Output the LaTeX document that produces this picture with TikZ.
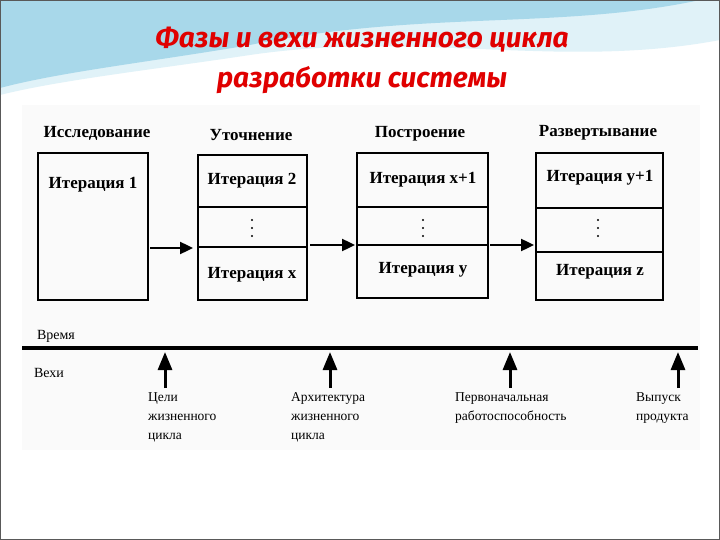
\documentclass[tikz,border=0pt]{standalone}
\usepackage{fontspec}
\setmainfont{Liberation Serif}
\newfontfamily\titlefont{Fira Sans}
\usetikzlibrary{arrows.meta}
\definecolor{sky}{HTML}{A8D8EA}
\definecolor{skyl}{HTML}{E0F2F8}
\definecolor{ttl}{HTML}{E00000}
\begin{document}
\begin{tikzpicture}[x=1pt,y=-1pt,
  box/.style={draw,line width=1.4pt},
  lbl/.style={font=\bfseries\fontsize{17}{19}\selectfont},
  itx/.style={font=\bfseries\fontsize{17}{19}\selectfont},
  ms/.style={font=\fontsize{13.5}{19}\selectfont,align=left,anchor=north west,inner sep=0pt},
  flow/.style={line width=2.4pt,-{Triangle[length=13pt,width=12pt]}},
  msarrow/.style={line width=3pt,-{Triangle[length=18pt,width=14pt]}},
  dotsty/.style={fill,circle,inner sep=0pt,minimum size=2.2pt}]
\useasboundingbox (0,0) rectangle (720,540);
\fill[white] (0,0) rectangle (720,540);
% decoration
\fill[skyl] (0,0) -- (720,0) -- (720,40) .. controls (560,70) and (420,30) .. (250,55) .. controls (150,70) and (60,80) .. (0,95) -- cycle;
\fill[sky] (0,0) -- (700,0) .. controls (560,30) and (420,10) .. (250,45) .. controls (150,62) and (60,72) .. (0,88) -- cycle;
\fill[gray!4] (22,105) rectangle (700,450);
\draw[gray!70!black,line width=1pt] (0.5,0.5) rectangle (719.5,539.5);
% title
\node[font=\titlefont\bfseries\itshape\fontsize{28}{32}\selectfont,text=ttl] (t1) at (362,40) {Фазы и вехи жизненного цикла};
\node[font=\titlefont\bfseries\itshape\fontsize{28}{32}\selectfont,text=ttl] (t2) at (362,80) {разработки системы};
% phase titles
\node[lbl] (p1) at (97,133) {Исследование};
\node[lbl] (p2) at (251,135) {Уточнение};
\node[lbl] (p3) at (420,134) {Построение};
\node[lbl] (p4) at (598,133) {Развертывание};
% boxes
\draw[box] (38,153) rectangle (148,300);
\node[itx] (i1) at (93,185) {Итерация 1};
\draw[box] (198,155) rectangle (307,300);
\draw[box] (198,207) -- (307,207) (198,247) -- (307,247);
\node[itx] (i2) at (252,181) {Итерация 2};
\node[itx] (ix) at (252,275) {Итерация x};
\draw[box] (357,153) rectangle (488,298);
\draw[box] (357,207) -- (488,207) (357,245) -- (488,245);
\node[itx] (i3) at (423,180) {Итерация x+1};
\node[itx] (iy) at (423,270) {Итерация y};
\draw[box] (536,153) rectangle (663,300);
\draw[box] (536,208) -- (663,208) (536,252) -- (663,252);
\node[itx] (i4) at (600,178) {Итерация y+1};
\node[itx] (iz) at (600,272) {Итерация z};
\foreach \x/\n in {252/d2,423/d3,598/d4}{
  \node[dotsty] (\n a) at (\x,220) {};
  \node[dotsty] (\n b) at (\x,228) {};
  \node[dotsty] (\n c) at (\x,236) {};}
% flow arrows
\coordinate (a1) at (150,248); \coordinate (b1) at (193,248);
\coordinate (a2) at (310,245); \coordinate (b2) at (355,245);
\coordinate (a3) at (490,245); \coordinate (b3) at (534,245);
\draw[flow] (a1) -- (b1);
\draw[flow] (a2) -- (b2);
\draw[flow] (a3) -- (b3);
% timeline
\coordinate (tl) at (22,348); \coordinate (tr) at (698,348);
\draw[line width=3.8pt] (tl) -- (tr);
\node[font=\fontsize{14}{16}\selectfont] (vr) at (56,336) {Время};
\node[font=\fontsize{14}{16}\selectfont] (vh) at (49,373) {Вехи};
\foreach \x/\n in {165/m1,330/m2,510/m3,678/m4}{
  \coordinate (\n b) at (\x,388); \coordinate (\n t) at (\x,352);
  \draw[msarrow] (\n b) -- (\n t);}
\node[ms] (l1) at (148,392) {Цели\\жизненного\\цикла};
\node[ms] (l2) at (291,392) {Архитектура\\жизненного\\цикла};
\node[ms] (l3) at (455,392) {Первоначальная\\работоспособность};
\node[ms] (l4) at (636,392) {Выпуск\\продукта};
\end{tikzpicture}
\end{document}
